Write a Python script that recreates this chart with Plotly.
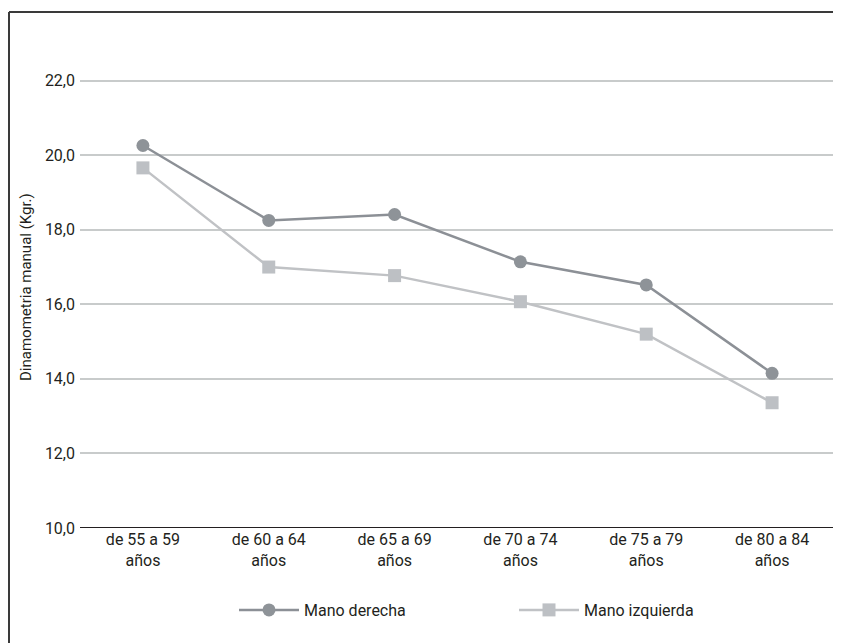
import plotly.graph_objects as go

categories = ["de 55 a 59<br>años", "de 60 a 64<br>años", "de 65 a 69<br>años",
              "de 70 a 74<br>años", "de 75 a 79<br>años", "de 80 a 84<br>años"]
mano_derecha = [20.26, 18.25, 18.41, 17.14, 16.52, 14.15]
mano_izquierda = [19.66, 17.00, 16.77, 16.07, 15.20, 13.36]
y_ticks = [10, 12, 14, 16, 18, 20, 22]
y_tick_labels = ["10,0", "12,0", "14,0", "16,0", "18,0", "20,0", "22,0"]

FONT = "Roboto, Liberation Sans, sans-serif"
TXT = "#231F20"

# figure is offset by the page's 8px body margin
W, H = 833, 635
ML, MR, MT, MB = 72, 6, 13, 115
PW = W - ML - MR
PH = H - MT - MB

def px(x):
    return (x - ML) / PW

def py(y):
    return (H - MB - y) / PH

fig = go.Figure()
fig.add_trace(go.Scatter(
    x=categories, y=mano_derecha, name="Mano derecha", mode="lines+markers",
    line=dict(color="#8C9096", width=2.5),
    marker=dict(symbol="circle", size=13, color="#8E9398"),
))
fig.add_trace(go.Scatter(
    x=categories, y=mano_izquierda, name="Mano izquierda", mode="lines+markers",
    line=dict(color="#C0C2C5", width=2.5),
    marker=dict(symbol="square", size=13, color="#BDC0C4"),
))

fig.update_layout(
    width=W, height=H,
    margin=dict(l=ML, r=MR, t=MT, b=MB, autoexpand=False),
    paper_bgcolor="white", plot_bgcolor="white",
    font=dict(family=FONT, color=TXT, size=16),
    showlegend=True,
    legend=dict(orientation="h", x=px(226), y=py(602), xanchor="left", yanchor="middle",
                font=dict(size=16, color=TXT), entrywidth=205, entrywidthmode="pixels",
                itemwidth=60, bgcolor="rgba(0,0,0,0)"),
    xaxis=dict(type="category", range=[-0.5, 5.5], showgrid=False, showline=False,
               ticks="", tickfont=dict(size=16, color=TXT), zeroline=False),
    yaxis=dict(range=[10, 23.6], tickvals=y_ticks, ticktext=y_tick_labels,
               showgrid=True, gridcolor="#C8CBCB", gridwidth=1.5,
               zeroline=False, showline=False, ticks="", ticklabelstandoff=4,
               tickfont=dict(size=16, color=TXT)),
    annotations=[
        dict(text="Dinamometria manual (Kgr.)", textangle=-90, xref="paper", yref="paper",
             x=px(18), y=py(279), xanchor="center", yanchor="middle", showarrow=False,
             font=dict(size=15, color=TXT)),
    ],
    shapes=[
        dict(type="line", xref="paper", yref="y", x0=0, x1=1, y0=10, y1=10,
             line=dict(color="#231F20", width=2)),
        dict(type="line", xref="paper", yref="paper",
             x0=px(1), x1=px(W), y0=py(4), y1=py(4),
             line=dict(color="#3A3A3A", width=2)),
        dict(type="line", xref="paper", yref="paper",
             x0=px(1), x1=px(1), y0=py(4), y1=py(H),
             line=dict(color="#3A3A3A", width=2)),
    ],
)

fig.write_html("out.html")
